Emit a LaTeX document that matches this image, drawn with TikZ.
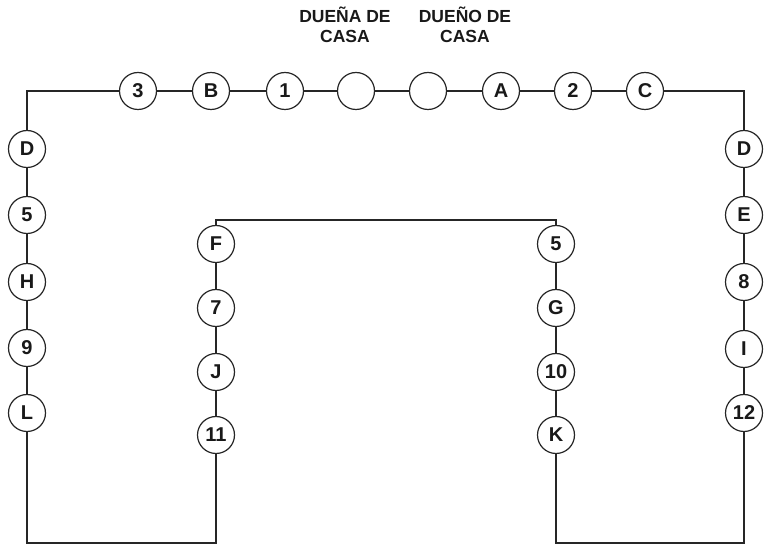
\documentclass[tikz,border=0pt]{standalone}
\usepackage{fontspec}
\setmainfont{Liberation Sans}
\begin{document}
\begin{tikzpicture}[x=1pt,y=-1pt,
  seat/.style={circle,draw=black!85,line width=1.2pt,minimum size=37pt,inner sep=0pt,fill=white,
    font=\fontsize{20}{22}\selectfont\bfseries,text=black!90},
  ttl/.style={align=center,font=\fontsize{17.5}{20}\selectfont\bfseries,text=black!90},
  wire/.style={draw=black!85,line width=1.2pt}]
\useasboundingbox (0,0) rectangle (764,545);
% top row
\node[seat] (t3) at (138,91) {3};
\node[seat] (tB) at (211,91) {B};
\node[seat] (t1) at (285,91) {1};
\node[seat] (e1) at (356,91) {};
\node[seat] (e2) at (428,91) {};
\node[seat] (tA) at (501,91) {A};
\node[seat] (t2) at (573,91) {2};
\node[seat] (tC) at (645,91) {C};
% left column
\node[seat] (lD) at (27,149) {D};
\node[seat] (l5) at (27,215) {5};
\node[seat] (lH) at (27,282) {H};
\node[seat] (l9) at (27,348) {9};
\node[seat] (lL) at (27,413) {L};
% right column
\node[seat] (rD) at (744,149) {D};
\node[seat] (rE) at (744,215) {E};
\node[seat] (r8) at (744,282) {8};
\node[seat] (rI) at (744,349) {I};
\node[seat] (r12) at (744,413) {12};
% inner left
\node[seat] (iF) at (216,244) {F};
\node[seat] (i7) at (216,308) {7};
\node[seat] (iJ) at (216,372) {J};
\node[seat] (i11) at (216,435) {11};
% inner right
\node[seat] (j5) at (556,244) {5};
\node[seat] (jG) at (556,308) {G};
\node[seat] (j10) at (556,372) {10};
\node[seat] (jK) at (556,435) {K};
% labels
\node[ttl] (la) at (345,25) {DUEÑA DE\\CASA};
\node[ttl] (lb) at (465,25) {DUEÑO DE\\CASA};
% corners
\coordinate (ctl) at (27,91);
\coordinate (ctr) at (744,91);
\coordinate (cil) at (216,220);
\coordinate (cir) at (556,220);
\coordinate (cbl1) at (27,543);
\coordinate (cbl2) at (216,543);
\coordinate (cbr1) at (556,543);
\coordinate (cbr2) at (744,543);
% connectors
\draw[wire] (lD) -- (ctl) -- (t3);
\draw[wire] (t3) -- (tB) (tB) -- (t1) (t1) -- (e1) (e1) -- (e2) (e2) -- (tA) (tA) -- (t2) (t2) -- (tC);
\draw[wire] (tC) -- (ctr) -- (rD);
\draw[wire] (lD) -- (l5) (l5) -- (lH) (lH) -- (l9) (l9) -- (lL);
\draw[wire] (rD) -- (rE) (rE) -- (r8) (r8) -- (rI) (rI) -- (r12);
\draw[wire] (iF) -- (cil) -- (cir) -- (j5);
\draw[wire] (iF) -- (i7) (i7) -- (iJ) (iJ) -- (i11);
\draw[wire] (j5) -- (jG) (jG) -- (j10) (j10) -- (jK);
\draw[wire] (lL) -- (cbl1) -- (cbl2) -- (i11);
\draw[wire] (jK) -- (cbr1) -- (cbr2) -- (r12);
\end{tikzpicture}
\end{document}
